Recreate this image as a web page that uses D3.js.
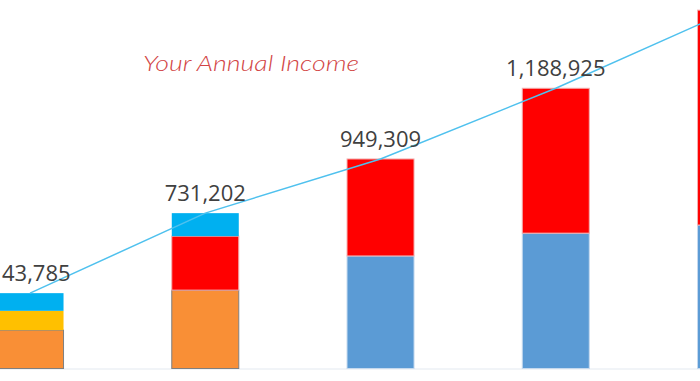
<!DOCTYPE html>
<html>
<head>
<meta charset="utf-8">
<script src="https://cdn.jsdelivr.net/npm/d3@7"></script>
<style>
  html, body { margin: 0; padding: 0; background: #fff; overflow: hidden; }
  svg { display: block; }
</style>
</head>
<body>
<svg id="chart" width="700" height="381"></svg>
<script>
// ---- data ----
const title = "Your Annual Income";
const categories = ["Year 1", "Year 2", "Year 3", "Year 4", "Year 5"];
// stacked segments, bottom to top
const seriesKeys = ["orange", "steel", "yellow", "red", "sky"];
const orangeValues = [165000, 337000, 0, 0, 0];
const steelValues  = [0, 0, 484000, 582000, 617000];
const yellowValues = [83000, 0, 0, 0, 0];
const redValues    = [0, 232000, 417000, 623000, 924000];
const skyValues    = [76000, 99000, 0, 0, 0];
// total labels as they appear above the bars (the first is cut in the source)
const totalLabels = ["43,785", "731,202", "949,309", "1,188,925"];

// ---- styles ----
const colors = { orange: "#F98F36", steel: "#5B9BD5", yellow: "#FFC000", red: "#FF0000", sky: "#00B0F0" };
const strokes = { orange: "#7f7f7f", steel: "#c5d9ee", yellow: "none", red: "#f3b0b0", sky: "none" };

const W = 700, H = 381;
const svg = d3.select("#chart");

const table = categories.map((c, i) => ({
  cat: c,
  orange: orangeValues[i], steel: steelValues[i], yellow: yellowValues[i],
  red: redValues[i], sky: skyValues[i]
}));
const stacked = d3.stack().keys(seriesKeys)(table);
const totals = table.map(d => seriesKeys.reduce((s, k) => s + d[k], 0));

const pi = 0.612;
const x = d3.scaleBand().domain(categories)
  .range([-57.6, -57.6 + 5 * 175.25])
  .paddingInner(pi).paddingOuter(pi / 2);
const y = d3.scaleLinear().domain([0, 1600000]).range([368.5, 368.5 - 1600000 / 4300]);

// faint baseline
svg.append("line")
  .attr("x1", 0).attr("x2", W)
  .attr("y1", y(0) + 0.5).attr("y2", y(0) + 0.5)
  .attr("stroke", "#e3e9f0").attr("stroke-width", 1);

// bars
svg.append("g").selectAll("g").data(stacked).join("g")
  .attr("fill", d => colors[d.key])
  .attr("stroke", d => strokes[d.key])
  .attr("stroke-width", 1)
  .selectAll("rect").data(d => d.filter(s => s[1] > s[0])).join("rect")
  .attr("x", d => x(d.data.cat) + 0.5)
  .attr("width", x.bandwidth() - 1)
  .attr("y", d => y(d[1]))
  .attr("height", d => y(d[0]) - y(d[1]));

// total line
const line = d3.line()
  .x((d, i) => x(categories[i]) + x.bandwidth() / 2)
  .y(d => y(d));
svg.append("path")
  .datum(totals)
  .attr("d", line)
  .attr("fill", "none")
  .attr("stroke", "#4FC1EE")
  .attr("stroke-width", 1.5);

// value labels (kept inside the canvas)
svg.append("g").selectAll("text").data(totalLabels).join("text")
  .attr("y", (d, i) => y(totals[i]) - 12)
  .attr("text-anchor", "start")
  .attr("font-family", "'Open Sans', sans-serif")
  .attr("font-size", 22)
  .attr("fill", "#404040")
  .text(d => d)
  .attr("x", function (d, i) {
    const w = this.getComputedTextLength();
    const cx = x(categories[i]) + x.bandwidth() / 2;
    return Math.max(2, cx - w / 2);
  });

// title
svg.append("text")
  .attr("x", 143).attr("y", 71)
  .attr("font-family", "Lato, sans-serif")
  .attr("font-style", "italic")
  .attr("font-weight", 300)
  .attr("font-size", 21)
  .attr("fill", "#D24545")
  .attr("textLength", 216)
  .attr("lengthAdjust", "spacingAndGlyphs")
  .text(title);
</script>
</body>
</html>
